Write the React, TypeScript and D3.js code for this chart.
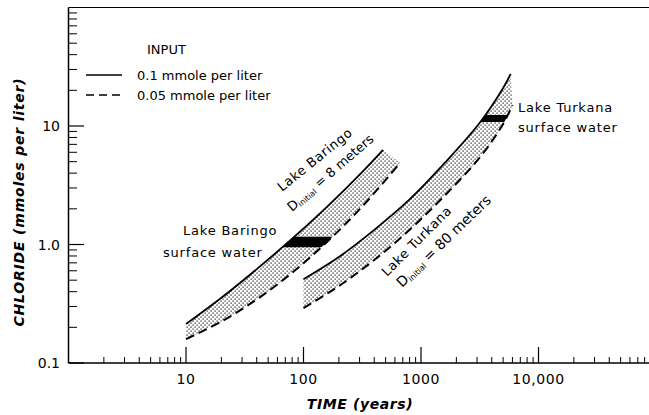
import React from 'react';
import * as d3 from 'd3';

// Lake Baringo (D initial = 8 m)
const baringoHighTime = [10, 20, 40, 80, 160, 320, 475];
const baringoHigh = [0.213, 0.355, 0.62, 1.12, 2.1, 4.15, 6.3];
const baringoLowTime = [10, 20, 40, 80, 160, 320, 663];
const baringoLow = [0.159, 0.224, 0.344, 0.578, 1.06, 2.12, 4.87];
const baringoSurface = [0.95, 1.16];

// Lake Turkana (D initial = 80 m)
const turkanaHighTime = [100, 200, 400, 800, 1600, 3200, 5000, 5800];
const turkanaHigh = [0.51, 0.785, 1.33, 2.4, 4.9, 10.8, 20.9, 27.5];
const turkanaLowTime = [100, 200, 400, 800, 1600, 3200, 5000, 6000];
const turkanaLow = [0.291, 0.446, 0.74, 1.33, 2.6, 5.5, 10.4, 15.0];
const turkanaSurface = [10.8, 12.4];

const xMajor = [10, 100, 1000, 10000];
const xMajorLabels = ['10', '100', '1000', '10,000'];
const yMajor = [0.1, 1, 10];
const yMajorLabels = ['0.1', '1.0', '10'];

const W = 649;
const H = 415;
const x = d3.scaleLog().domain([1, 100000]).range([68.5, 656]);
const y = d3.scaleLog().domain([0.1, 100]).range([363, 7.5]);

const font = '"DejaVu Sans", sans-serif';

const line = d3
  .line<[number, number]>()
  .x((d) => x(d[0]))
  .y((d) => y(d[1]))
  .curve(d3.curveCatmullRom);

const zip = (t: number[], v: number[]) => t.map((d, i) => [d, v[i]] as [number, number]);

const bandPath = (hi: [number, number][], lo: [number, number][]) =>
  line(hi) + line([...lo].reverse())!.replace(/^M/, 'L') + 'Z';

const minorTicks = (lo: number, hi: number) => {
  const out: number[] = [];
  for (let p = lo; p <= hi; p *= 10) {
    for (let m = 2; m <= 9; m++) out.push(p * m);
  }
  return out;
};

const App = () => {
  const bar = zip(baringoHighTime, baringoHigh);
  const barLo = zip(baringoLowTime, baringoLow);
  const tur = zip(turkanaHighTime, turkanaHigh);
  const turLo = zip(turkanaLowTime, turkanaLow);

  const xMinor = minorTicks(1, 10000).filter((v) => x(v) <= W);
  const yMinor = minorTicks(0.1, 10);

  return (
    <svg
      width={W}
      height={H}
      style={{ position: 'absolute', left: 0, top: 0, background: '#fff' }}
      fontFamily={font}
    >
      <defs>
        <pattern id="dots" width="4" height="4" patternUnits="userSpaceOnUse">
          <rect width="4" height="4" fill="#fff" />
          <rect x="0.5" y="0.5" width="1.2" height="1.2" fill="#111" />
          <rect x="2.5" y="2.5" width="1.2" height="1.2" fill="#111" />
        </pattern>
        <clipPath id="clipBar">
          <rect x={0} width={W} y={y(baringoSurface[1])} height={y(baringoSurface[0]) - y(baringoSurface[1])} />
        </clipPath>
        <clipPath id="clipTur">
          <rect x={0} width={W} y={y(turkanaSurface[1])} height={y(turkanaSurface[0]) - y(turkanaSurface[1])} />
        </clipPath>
      </defs>

      {/* shaded bands */}
      <path d={bandPath(bar, barLo)} fill="url(#dots)" />
      <path d={bandPath(tur, turLo)} fill="url(#dots)" />
      <path d={bandPath(bar, barLo)} fill="#000" clipPath="url(#clipBar)" />
      <path d={bandPath(tur, turLo)} fill="#000" clipPath="url(#clipTur)" />

      {/* curves */}
      <path d={line(bar)!} fill="none" stroke="#000" strokeWidth={1.8} />
      <path d={line(tur)!} fill="none" stroke="#000" strokeWidth={1.8} />
      <path d={line(barLo)!} fill="none" stroke="#000" strokeWidth={2} strokeDasharray="9,5" />
      <path d={line(turLo)!} fill="none" stroke="#000" strokeWidth={2} strokeDasharray="9,5" />

      {/* frame */}
      <line x1={68.5} x2={68.5} y1={7.5} y2={363} stroke="#000" strokeWidth={1.5} />
      <line x1={68.5} x2={W} y1={363} y2={363} stroke="#000" strokeWidth={1.5} />
      <line x1={68.5} x2={W} y1={7.5} y2={7.5} stroke="#000" strokeWidth={1.2} />

      {/* x ticks */}
      {xMinor.map((v) => (
        <line key={'xm' + v} x1={x(v)} x2={x(v)} y1={363} y2={357} stroke="#000" strokeWidth={1} />
      ))}
      {xMajor.map((v, i) => (
        <g key={'xM' + v}>
          <line x1={x(v)} x2={x(v)} y1={363} y2={347} stroke="#000" strokeWidth={1.2} />
          <text x={x(v)} y={384} textAnchor="middle" fontSize={14} letterSpacing={0.6}>
            {xMajorLabels[i]}
          </text>
        </g>
      ))}

      {/* y ticks */}
      {yMinor.map((v) => (
        <line key={'ym' + v} x1={68.5} x2={77} y1={y(v)} y2={y(v)} stroke="#000" strokeWidth={1} />
      ))}
      {yMajor.map((v, i) => (
        <g key={'yM' + v}>
          <line x1={68.5} x2={84} y1={y(v)} y2={y(v)} stroke="#000" strokeWidth={1.2} />
          <text x={60} y={y(v) + 5} textAnchor="end" fontSize={14}>
            {yMajorLabels[i]}
          </text>
        </g>
      ))}

      {/* axis titles */}
      <text x={360} y={409} textAnchor="middle" fontSize={14} fontWeight="bold" fontStyle="italic" letterSpacing={0.6}>
        TIME (years)
      </text>
      <text
        transform="translate(24,202) rotate(-90)"
        textAnchor="middle"
        fontSize={14}
        fontWeight="bold"
        fontStyle="italic"
        letterSpacing={0.8}
      >
        CHLORIDE (mmoles per liter)
      </text>

      {/* legend */}
      <text x={147} y={54} fontSize={13}>INPUT</text>
      <line x1={86} x2={122} y1={75} y2={75} stroke="#000" strokeWidth={1.5} />
      <text x={137} y={80} fontSize={13}>0.1 mmole per liter</text>
      <line x1={86} x2={124} y1={95} y2={95} stroke="#000" strokeWidth={1.5} strokeDasharray="8,5" />
      <text x={137} y={100} fontSize={13}>0.05 mmole per liter</text>

      {/* annotations */}
      <text x={183} y={235} fontSize={13} letterSpacing={0.8}>Lake Baringo</text>
      <text x={163} y={257} fontSize={13} letterSpacing={0.8}>surface water</text>
      <text x={518} y={112} fontSize={13} letterSpacing={0.8}>Lake Turkana</text>
      <text x={518} y={132} fontSize={13} letterSpacing={0.8}>surface water</text>

      <text transform="translate(282,192) rotate(-39)" fontSize={13} letterSpacing={0.6}>
        Lake Baringo
      </text>
      <text transform="translate(292,212) rotate(-41)" fontSize={13}>
        <tspan>D</tspan>
        <tspan fontSize={8} dy={2}>initial</tspan>
        <tspan dy={-2}> = 8 meters</tspan>
      </text>
      <text transform="translate(387,277) rotate(-45)" fontSize={13} letterSpacing={0.6}>
        Lake Turkana
      </text>
      <text transform="translate(402,288) rotate(-44)" fontSize={14}>
        <tspan>D</tspan>
        <tspan fontSize={8} dy={2}>initial</tspan>
        <tspan dy={-2}> = 80 meters</tspan>
      </text>
    </svg>
  );
};

export default App;
